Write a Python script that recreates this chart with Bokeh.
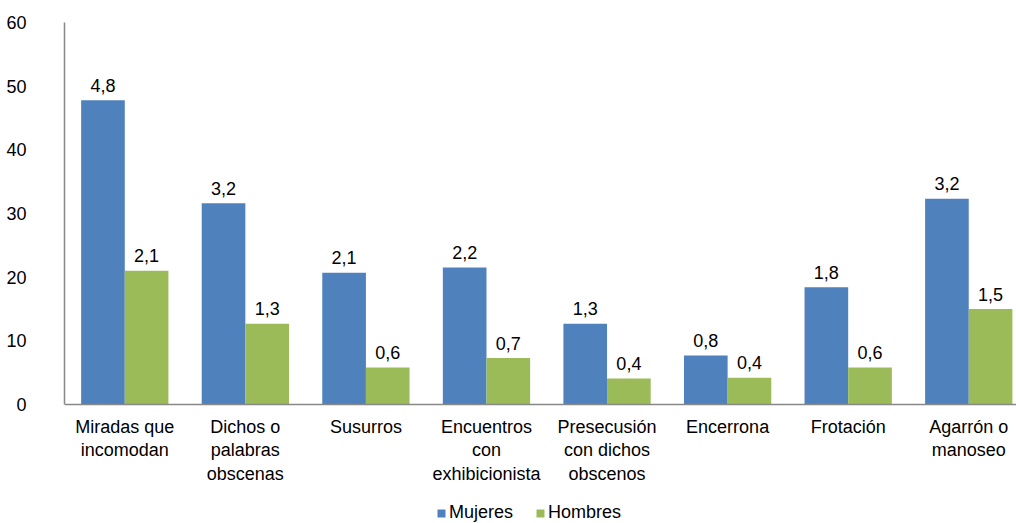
from bokeh.plotting import figure
from bokeh.models import Range1d, FixedTicker, Legend, LegendItem, ColumnDataSource
from bokeh.core.properties import value
from bokeh.embed import file_html
from bokeh.resources import INLINE

categories = ["Miradas que\nincomodan", "Dichos o\npalabras\nobscenas", "Susurros",
              "Encuentros\ncon\nexhibicionista", "Presecusión\ncon dichos\nobscenos",
              "Encerrona", "Frotación", "Agarrón o\nmanoseo"]
mujeres = [47.8, 31.6, 20.7, 21.5, 12.7, 7.7, 18.4, 32.3]
hombres = [21.0, 12.7, 5.8, 7.3, 4.1, 4.2, 5.8, 15.0]
mujeres_labels = ["4,8", "3,2", "2,1", "2,2", "1,3", "0,8", "1,8", "3,2"]
hombres_labels = ["2,1", "1,3", "0,6", "0,7", "0,4", "0,4", "0,6", "1,5"]
y_ticks = [0, 10, 20, 30, 40, 50, 60]

BLUE = "#4F81BD"
GREEN = "#9BBB59"
FONT = "Liberation Sans"

centers = [i + 0.5 for i in range(len(categories))]
off = 0.181
w = 0.362

src_m = ColumnDataSource(dict(x=[c - off for c in centers], top=mujeres, lab=mujeres_labels))
src_h = ColumnDataSource(dict(x=[c + off for c in centers], top=hombres, lab=hombres_labels))

p = figure(frame_width=952, frame_height=501, output_backend="svg", toolbar_location=None,
           x_range=Range1d(0, 7.896), y_range=Range1d(-18.69, 60))
p.min_border_left = 64
p.min_border_right = 0
p.min_border_top = 22
p.min_border_bottom = 0
p.outline_line_color = None
p.grid.visible = False
p.background_fill_color = "white"
p.border_fill_color = "white"

rm = p.vbar(x="x", top="top", width=w, bottom=0, source=src_m, fill_color=BLUE, line_color=None)
rh = p.vbar(x="x", top="top", width=w, bottom=0, source=src_h, fill_color=GREEN, line_color=None)

for src in (src_m, src_h):
    p.text(x="x", y="top", text="lab", source=src, text_align="center", text_baseline="alphabetic",
           y_offset=-15, text_font=value(FONT), text_font_size="18px", text_color="#000000")

p.yaxis.ticker = FixedTicker(ticks=y_ticks)
p.yaxis.bounds = (0, 60)
p.yaxis.major_tick_line_color = None
p.yaxis.minor_tick_line_color = None
p.yaxis.axis_line_color = "#888888"
p.yaxis.axis_line_width = 1.5
p.yaxis.major_label_standoff = 32
p.yaxis.major_label_text_font = FONT
p.yaxis.major_label_text_font_size = "18px"
p.yaxis.major_label_text_color = "#000000"

p.xaxis.fixed_location = 0
p.xaxis.ticker = FixedTicker(ticks=centers)
p.xaxis.major_label_overrides = {c: lab for c, lab in zip(centers, categories)}
p.xaxis.major_tick_line_color = None
p.xaxis.minor_tick_line_color = None
p.xaxis.axis_line_color = "#888888"
p.xaxis.axis_line_width = 1.5
p.xaxis.major_label_standoff = 6
p.xaxis.major_label_text_font = FONT
p.xaxis.major_label_text_font_size = "18px"
p.xaxis.major_label_text_color = "#000000"
p.xaxis.major_label_text_line_height = 1.19

legend = Legend(items=[LegendItem(label="Mujeres", renderers=[rm]),
                       LegendItem(label="Hombres", renderers=[rh])],
                orientation="horizontal", location=(372, 0),
                label_text_font=FONT, label_text_font_size="18px", label_text_color="#000000",
                glyph_width=10, glyph_height=10, label_standoff=3, spacing=22,
                border_line_color=None, background_fill_alpha=0, padding=0, margin=0)
p.add_layout(legend)

open("out.html", "w").write(file_html(p, INLINE))
